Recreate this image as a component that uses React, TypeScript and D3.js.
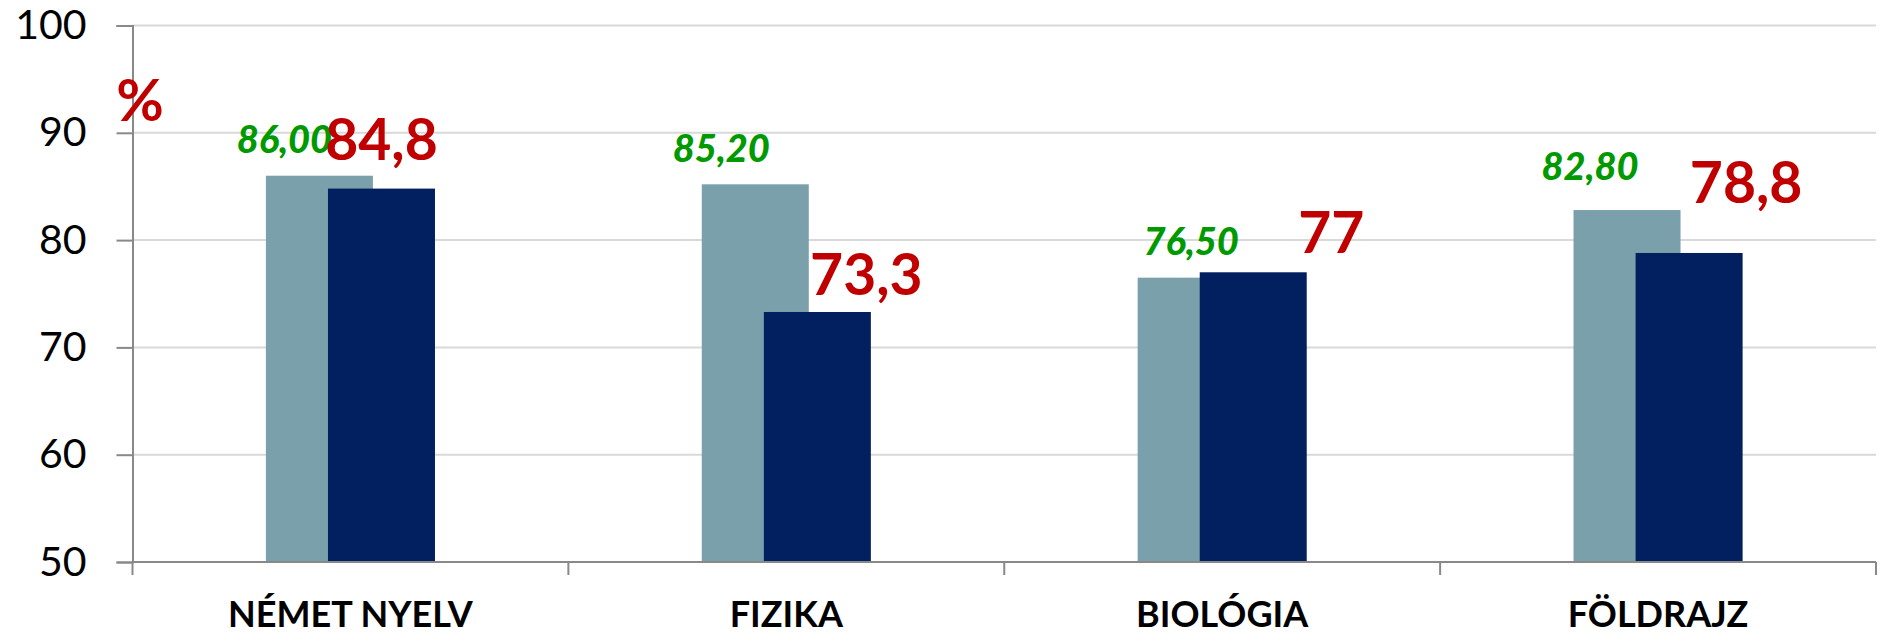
import * as d3 from 'd3';
import React, { useEffect, useRef } from 'react';

// data
const categories = ['NÉMET NYELV', 'FIZIKA', 'BIOLÓGIA', 'FÖLDRAJZ'];
const prevValues = [86.0, 85.2, 76.5, 82.8];
const currValues = [84.8, 73.3, 77, 78.8];
const yTicks = [50, 60, 70, 80, 90, 100];

// hand placed label nudges (px), like the original
const prevLabelDx = [-35, -34, 0, -37];
const prevLabelDy = [-23, -22, -23, -30];
const currLabelDx = [0, 49, 78, 57];
const currLabelDy = [-29, -17, -19, -50];

const W = 1884;
const H = 634;

const App = () => {
  const chartRef = useRef<SVGSVGElement>(null);

  useEffect(() => {
    document.body.style.margin = '0';
    drawChart();
  }, []);

  const drawChart = () => {
    const svg = d3.select(chartRef.current);
    svg.selectAll('*').remove();

    const left = 132.5, right = 1876, top = 25.5, bottom = 562;
    const font = 'Lato, "Noto Sans", sans-serif';

    const x = d3.scaleBand().domain(categories).range([left, right]).paddingInner(0).paddingOuter(0);
    const y = d3.scaleLinear().domain([50, 100]).range([bottom, top]);

    const bw = x.bandwidth();
    const barW = bw * 0.2455;
    const shift = bw * 0.0712;
    const cx = (c: string) => (x(c) as number) + bw / 2;

    // grid lines
    svg.append('g')
      .selectAll('line')
      .data(yTicks.filter(t => t > 50))
      .enter().append('line')
      .attr('x1', left).attr('x2', right)
      .attr('y1', d => y(d)).attr('y2', d => y(d))
      .attr('stroke', '#D9D9D9')
      .attr('stroke-width', 2);

    // light bars (previous)
    svg.append('g')
      .selectAll('rect')
      .data(categories)
      .enter().append('rect')
      .attr('x', d => cx(d) - shift - barW / 2)
      .attr('y', (d, i) => y(prevValues[i]))
      .attr('width', barW)
      .attr('height', (d, i) => bottom - y(prevValues[i]))
      .attr('fill', '#7AA0AB');

    // dark bars (current)
    svg.append('g')
      .selectAll('rect')
      .data(categories)
      .enter().append('rect')
      .attr('x', d => cx(d) + shift - barW / 2)
      .attr('y', (d, i) => y(currValues[i]))
      .attr('width', barW)
      .attr('height', (d, i) => bottom - y(currValues[i]))
      .attr('fill', '#021F5F');

    // y axis
    const yAxis = svg.append('g')
      .attr('transform', 'translate(' + left + ',0)')
      .call(d3.axisLeft(y).tickValues(yTicks).tickSize(16).tickPadding(30).tickFormat(d3.format('d')));
    yAxis.select('.domain').attr('stroke', '#898989').attr('stroke-width', 2);
    yAxis.selectAll('.tick line').attr('stroke', '#898989').attr('stroke-width', 2);
    yAxis.selectAll('.tick text')
      .attr('fill', '#000')
      .style('font-family', font)
      .style('font-size', '41px');

    // x axis
    svg.append('line')
      .attr('x1', left).attr('x2', right)
      .attr('y1', bottom).attr('y2', bottom)
      .attr('stroke', '#898989').attr('stroke-width', 2);
    const bounds = categories.map(c => x(c) as number).concat([right]);
    svg.append('g')
      .selectAll('line')
      .data(bounds)
      .enter().append('line')
      .attr('x1', d => d).attr('x2', d => d)
      .attr('y1', bottom).attr('y2', bottom + 13)
      .attr('stroke', '#898989').attr('stroke-width', 2);
    svg.append('g')
      .selectAll('text')
      .data(categories)
      .enter().append('text')
      .attr('x', d => cx(d))
      .attr('y', 627)
      .attr('text-anchor', 'middle')
      .style('font-family', font)
      .style('font-weight', 700)
      .style('font-size', '36px')
      .attr('fill', '#000')
      .text(d => d);

    // value labels, previous
    svg.append('g')
      .selectAll('text')
      .data(categories)
      .enter().append('text')
      .attr('x', (d, i) => cx(d) - shift + prevLabelDx[i])
      .attr('y', (d, i) => y(prevValues[i]) + prevLabelDy[i])
      .attr('text-anchor', 'middle')
      .style('font-family', font)
      .style('font-weight', 900)
      .style('font-style', 'italic')
      .style('font-size', '38px')
      .attr('fill', '#009A00')
      .text((d, i) => d3.format('.2f')(prevValues[i]).replace('.', ','));

    // value labels, current
    svg.append('g')
      .selectAll('text')
      .data(categories)
      .enter().append('text')
      .attr('x', (d, i) => cx(d) + shift + currLabelDx[i])
      .attr('y', (d, i) => y(currValues[i]) + currLabelDy[i])
      .attr('text-anchor', 'middle')
      .style('font-family', font)
      .style('font-weight', 700)
      .style('font-size', '57px')
      .attr('fill', '#C00000')
      .text((d, i) => String(currValues[i]).replace('.', ','));

    // unit
    svg.append('text')
      .attr('x', 140)
      .attr('y', 121)
      .attr('text-anchor', 'middle')
      .style('font-family', font)
      .style('font-weight', 700)
      .style('font-size', '58px')
      .attr('fill', '#C00000')
      .text('%');
  };

  return (
    <svg ref={chartRef} width={W} height={H} style={{ display: 'block' }}></svg>
  );
};

export default App;
